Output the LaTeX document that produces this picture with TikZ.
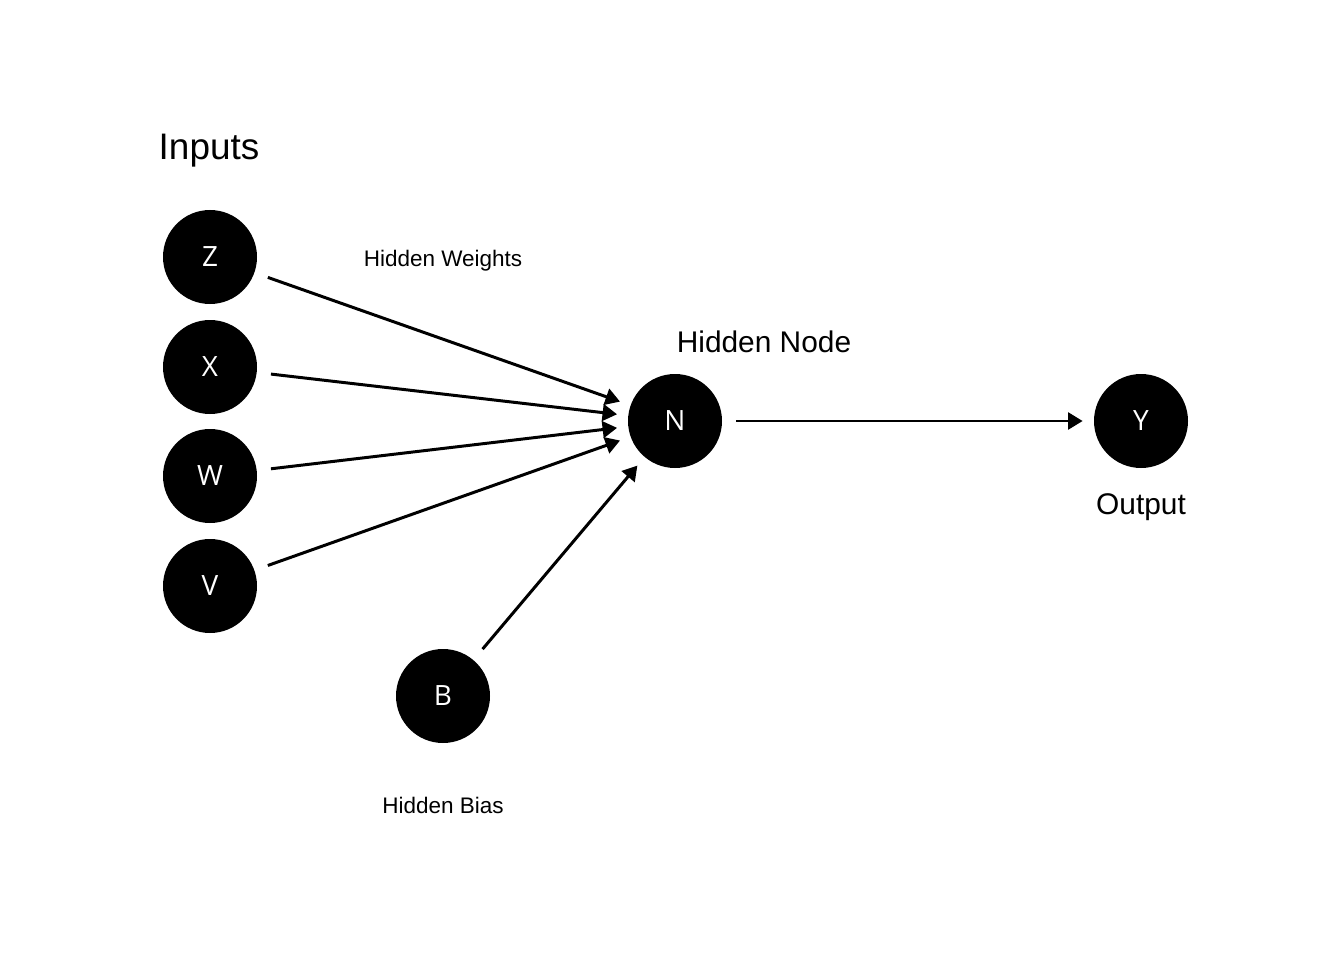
\documentclass[tikz,border=0pt]{standalone}
\usepackage{fontspec}
\setmainfont{Liberation Sans}
\newfontfamily\letterfont{Open Sans}
\usepackage{tikz}
\usetikzlibrary{arrows.meta}
\tikzset{
	unit/.style={circle, fill=black, inner sep=0pt, minimum size=1.88cm, text=white, font=\letterfont\fontsize{15.9}{18}\selectfont},
	link/.style={line width=1.7pt, -{Triangle[angle=60:9.5pt]}, shorten <=0.28cm, shorten >=0.22cm},
	big/.style={anchor=base, font=\fontsize{21}{24}\selectfont},
	mid/.style={anchor=base, font=\fontsize{17}{20}\selectfont},
	small/.style={anchor=base, font=\fontsize{12.8}{15}\selectfont}
}

\begin{document}
\begin{tikzpicture}
			\useasboundingbox (0, 0) rectangle (26.88, -19.2);
			\node[unit] (z) at (4.2, -5.14){Z};
			\node[unit] (x) at (4.2, -7.34){X};
			\node[unit] (w) at (4.2, -9.52){W};
			\node[unit] (v) at (4.2, -11.72){V};
			\node[unit] (b) at (8.86, -13.92){B};
			\node[unit] (n) at (13.5, -8.42){N};
			\node[unit] (y) at (22.82, -8.42){Y};
			\draw[link] (z) -- (n);
			\draw[link] (x) -- (n);
			\draw[link] (w) -- (n);
			\draw[link] (v) -- (n);
			\draw[link] (b) -- (n);
			\draw[link] (n) -- (y);
			\node[big] (inputs) at (4.18, -3.2){Inputs};
			\node[small] (weights) at (8.86, -5.32){Hidden Weights};
			\node[mid] (hidden) at (15.28, -7.04){Hidden Node};
			\node[mid] (output) at (22.82, -10.28){Output};
			\node[small] (bias) at (8.86, -16.26){Hidden Bias};
		\end{tikzpicture}
\end{document}
